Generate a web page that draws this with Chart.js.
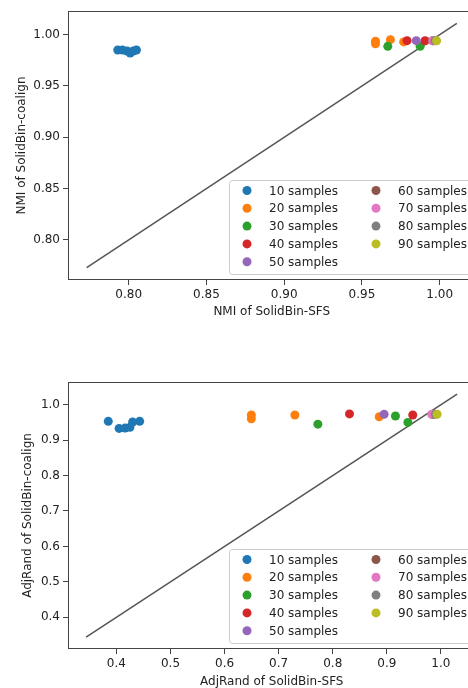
<!DOCTYPE html>
<html>
  <head>
    <script src="https://cdn.jsdelivr.net/npm/chart.js@4"></script>
    <style>
      body { margin: 0; overflow: hidden; background: #fff; }
      canvas { display: block; }
    </style>
  </head>
  <body>
    <canvas id="nmi" width="480" height="322"></canvas>
    <canvas id="ari" width="480" height="366"></canvas>
    <script>
      const groups = ['10 samples', '20 samples', '30 samples', '40 samples', '50 samples',
        '60 samples', '70 samples', '80 samples', '90 samples'];
      const colors = ['#1f77b4', '#ff7f0e', '#2ca02c', '#d62728', '#9467bd',
        '#8c564b', '#e377c2', '#7f7f7f', '#bcbd22'];

      // NMI: SolidBin-SFS (x) vs SolidBin-coalign (y)
      const nmiSfs = [
        [0.793, 0.796, 0.799, 0.801, 0.803, 0.805],
        [0.9587, 0.9587, 0.9683, 0.9768],
        [0.9666, 0.9874],
        [0.979, 0.9906],
        [0.9849],
        [0.9955],
        [0.9955],
        [0.997],
        [0.998],
      ];
      const nmiCoalign = [
        [0.985, 0.985, 0.984, 0.982, 0.984, 0.985],
        [0.9935, 0.991, 0.9951, 0.9929],
        [0.9886, 0.9886],
        [0.9941, 0.994],
        [0.9941],
        [0.994],
        [0.994],
        [0.994],
        [0.994],
      ];
      const nmiDiag = [0.773, 1.011];
      const nmiTicks = [0.80, 0.85, 0.90, 0.95, 1.00];

      // AdjRand: SolidBin-SFS (x) vs SolidBin-coalign (y)
      const ariSfs = [
        [0.385, 0.405, 0.416, 0.425, 0.43, 0.443],
        [0.6495, 0.6495, 0.730, 0.886],
        [0.7725, 0.916, 0.939],
        [0.831, 0.948],
        [0.895],
        [0.985],
        [0.983],
        [0.99],
        [0.993],
      ];
      const ariCoalign = [
        [0.953, 0.933, 0.934, 0.936, 0.951, 0.953],
        [0.971, 0.960, 0.971, 0.966],
        [0.945, 0.968, 0.950],
        [0.974, 0.971],
        [0.973],
        [0.972],
        [0.973],
        [0.973],
        [0.973],
      ];
      const ariDiag = [0.344, 1.03];
      const ariTicks = [0.4, 0.5, 0.6, 0.7, 0.8, 0.9, 1.0];

      Chart.defaults.font.family = 'DejaVu Sans';
      Chart.defaults.font.size = 12;
      Chart.defaults.color = '#222';

      const frameAndLegend = {
        id: 'frameAndLegend',
        afterDatasetsDraw(chart) {
          const { ctx, chartArea: a } = chart;
          ctx.save();
          ctx.strokeStyle = '#444';
          ctx.lineWidth = 1;
          ctx.strokeRect(a.left + 0.5, a.top + 0.5, a.right - a.left - 1, a.bottom - a.top - 1);

          const left = a.left + 161, top = a.bottom - 100, right = a.right - 5, h = 94;
          ctx.beginPath();
          ctx.roundRect(left + 0.5, top + 0.5, right - left, h, 3);
          ctx.fillStyle = 'rgba(255,255,255,0.8)';
          ctx.fill();
          ctx.strokeStyle = '#ccc';
          ctx.stroke();

          ctx.font = '12px "DejaVu Sans"';
          ctx.textBaseline = 'middle';
          ctx.textAlign = 'left';
          chart.data.datasets.filter((d) => d.type !== 'line').forEach((d, i) => {
            const col = i < 5 ? 0 : 1;
            const row = i < 5 ? i : i - 5;
            const y = top + 10.5 + row * 17.8;
            const x = left + 18 + col * 129;
            ctx.beginPath();
            ctx.arc(x, y, 4.5, 0, Math.PI * 2);
            ctx.fillStyle = d.backgroundColor;
            ctx.fill();
            ctx.fillStyle = '#222';
            ctx.fillText(d.label, x + 22, y + 1);
          });
          ctx.restore();
        },
      };

      function makeChart(id, o) {
        const datasets = groups.map((g, i) => ({
          label: g,
          data: o.xs[i].map((x, j) => ({ x: x, y: o.ys[i][j] })),
          backgroundColor: colors[i],
          borderWidth: 0,
          pointRadius: 4.5,
          pointHoverRadius: 4.5,
          order: 20 - i,
        }));
        datasets.push({
          type: 'line',
          label: 'diag',
          data: o.diag.map((v) => ({ x: v, y: v })),
          borderColor: '#555',
          borderWidth: 1.5,
          pointRadius: 0,
          order: 100,
        });

        const axis = (ticks) => ({
          type: 'linear',
          min: o.min,
          max: o.max,
          afterBuildTicks: (s) => {
            s.ticks = ticks.map((v) => ({ value: v }));
          },
          grid: { drawOnChartArea: false, drawTicks: true, tickLength: 5, color: '#444' },
          border: { display: false },
          ticks: { padding: 3, color: '#222', autoSkip: false, maxRotation: 0,
            callback: (v) => v.toFixed(o.digits) },
        });

        const x = axis(o.ticks);
        x.afterFit = (s) => { s.height = o.axisH; };
        x.title = { display: true, text: o.xTitle, color: '#222',
          font: { size: 12, lineHeight: 1 }, padding: { top: 0, bottom: o.xTitlePad } };

        const y = axis(o.ticks);
        y.afterFit = (s) => { s.width = 68; };
        y.title = { display: true, text: o.yTitle, color: '#222',
          font: { size: 12, lineHeight: 1 }, padding: { top: o.yTitlePad, bottom: 0 } };

        return new Chart(document.getElementById(id), {
          type: 'scatter',
          data: { datasets: datasets },
          options: {
            responsive: false,
            animation: false,
            layout: { padding: { top: o.padTop, right: 1, bottom: 0, left: 0 } },
            plugins: { legend: { display: false }, tooltip: { enabled: false } },
            scales: { x: x, y: y },
          },
          plugins: [frameAndLegend],
        });
      }

      makeChart('nmi', {
        xs: nmiSfs, ys: nmiCoalign, diag: nmiDiag, ticks: nmiTicks, digits: 2,
        min: 0.761, max: 1.023, padTop: 11, axisH: 42, xTitlePad: 4, yTitlePad: 15.7,
        xTitle: 'NMI of SolidBin-SFS', yTitle: 'NMI of SolidBin-coalign',
      });

      makeChart('ari', {
        xs: ariSfs, ys: ariCoalign, diag: ariDiag, ticks: ariTicks, digits: 1,
        min: 0.3105, max: 1.064, padTop: 60, axisH: 39, xTitlePad: 0, yTitlePad: 22.3,
        xTitle: 'AdjRand of SolidBin-SFS', yTitle: 'AdjRand of SolidBin-coalign',
      });
    </script>
  </body>
</html>
